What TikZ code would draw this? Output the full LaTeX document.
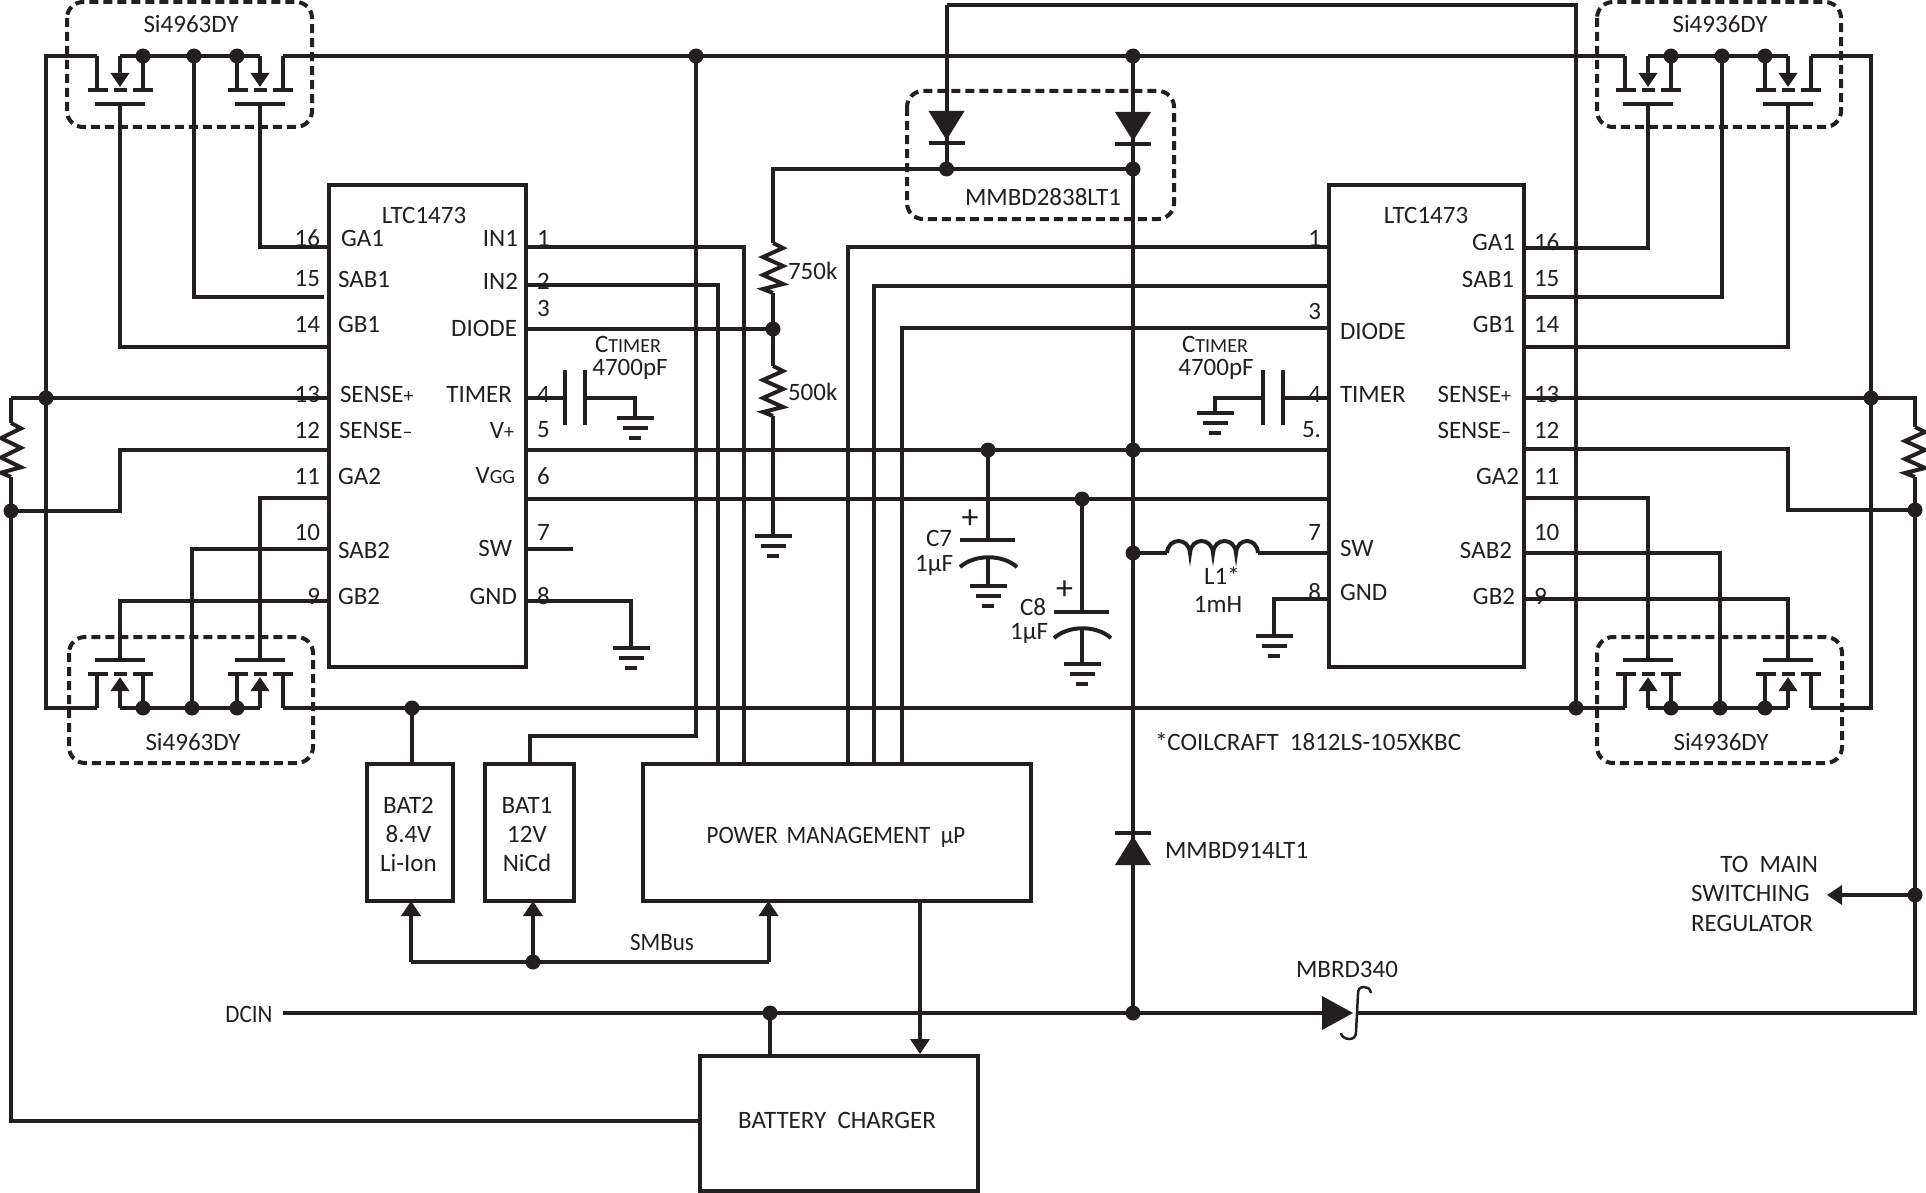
\documentclass[tikz,border=0pt]{standalone}
\usepackage{fontspec}
\setmainfont{Carlito}
\newfontfamily\narrowfont[FakeStretch=0.92]{Carlito}
\usetikzlibrary{arrows.meta}
\definecolor{ink}{HTML}{231F20}
\newcommand{\smalltxt}[1]{{\fontsize{10}{12}\selectfont #1}}
\tikzset{
    wire/.style={line width=2pt},
    arr/.style={-{Triangle[length=7.5pt,width=9.5pt]}},
    dot/.style={circle,fill=ink,inner sep=0pt,outer sep=0pt,minimum size=7.5pt},
    txt/.style={inner sep=0pt,outer sep=0pt,align=center},
    block/.style={draw,line width=2pt,inner sep=0pt,outer sep=0pt},
    dashbox/.style={line width=2pt,rounded corners=8pt,dash pattern=on 4.5pt off 2.5pt},
    fet/.pic={
        \draw[wire] (-25,14) -- (25,14) (-32,0) -- (-12,0) (-6.5,0) -- (6.5,0) (13,0) -- (33,0);
        \coordinate (-l) at (-23,-34);
        \coordinate (-m) at (0,-34);
        \coordinate (-r) at (23,-34);
        \coordinate (-g) at (0,14);
        \draw[wire] (-23,0) -- (-l) (23,0) -- (-r);
        \draw[wire,-{Triangle[length=7pt,width=9pt]}] (-m) -- (0,-3);
    },
    gnd/.pic={
        \draw[wire] (-18.5,0) -- (18.5,0) (-12.5,10) -- (12.5,10) (-6,20) -- (6,20);
    },
    res/.pic={
        \coordinate (-a) at (0,0);
        \coordinate (-b) at (0,50);
        \draw[wire] (-a) -- (10,5) -- (-10,14) -- (10,23) -- (-10,32) -- (10,41) -- (-10,46) -- (-b);
    },
    capa/.pic={
        \coordinate (-l) at (-10,0);
        \coordinate (-r) at (10,0);
        \draw[wire] (-10,-28) -- (-10,27) (10,-28) -- (10,27);
    },
    diode/.pic={
        \fill[ink] (-18,-32) -- (18,-32) -- (0,-3) -- cycle;
        \draw[wire] (-18,0) -- (18,0);
    },
}
\begin{document}
\begin{tikzpicture}[x=0.5pt,y=-0.5pt,color=ink,font=\fontsize{12.5}{14.3}\selectfont]
    \useasboundingbox (0,0) rectangle (1926,1193);
    \node[block,minimum width=98.5pt,minimum height=241pt] (icA) at (427.5,426) {};
    \node[block,minimum width=97.5pt,minimum height=241pt] (icB) at (1426.5,426) {};
    \node[block,minimum width=43pt,minimum height=68.5pt] (bat2) at (410,832.5) {};
    \node[block,minimum width=44.5pt,minimum height=68.5pt] (bat1) at (529.5,832.5) {};
    \node[block,minimum width=194pt,minimum height=68.5pt] (pm) at (837,832.5) {};
    \node[block,minimum width=139pt,minimum height=67.5pt] (chg) at (839,1123.5) {};

    \foreach \n/\x/\y in {a16/329/247,a15/324/297,a14/329/347,a13/329/398,a12/329/450,a11/329/498,a10/329/549,a9/329/601,
        a1/526/247,a2/526/285,a3/526/329,a4/526/398,a5/526/450,a6/526/499,a7/526/549,a8/526/601,
        b1/1329/247,b2/1329/286,b3/1329/328,b4/1329/398,b5/1329/450,b6/1329/499,b7/1329/553,b8/1329/599,
        b16/1524/248,b15/1524/297,b14/1524/347,b13/1524/398,b12/1524/449,b11/1524/498,b10/1524/553,b9/1524/599,
        ja/46/398,jb/194/56,jc/192/708,jd/412/708,je/696/56,jf/773/329,jg/946.5/169,jh/1133/169,ji/1133/56,
        jj/988/450,jk/1133/450,jl/1082/499,jm/1133/553,jn/1576/708,jo/1722/56,jp/1720/708,jq/1871/398,jr/1915/510,
        js/11/511,jt/533/962,ju/770/1013,jv/1133/1013,jw/1915/895,
        sl/11/398,sr/1915/398,k1/120/450,k2/529.5/736,k3/1788/449,t1/946.5/5,t2/1576/5,
        pa/744/764,pb/718/764,pc/848/764,pd/874/764,pe/902/764,cw/700/1121,
        sm1/411/962,sm3/768.5/962,pq/920/901,cq/920/1054,dc/283/1013,sk1/1322/1013,sk2/1356/1013,tm/1827/895,
        sw/573/549,l0/1167/553,l1/1258/553,
        c7t/988/540,c7m/988/557,c8t/1082/612,c8m/1082/627,
        ga/635/418,gb/631/648,gc/1215/413,gd/1274/636,ge/988/586,gf/773/536,gg/1082/664}
        \coordinate (\n) at (\x,\y);

    \pic (fa) at (120,90) {fet};
    \pic (fb) at (260,90) {fet};
    \pic[yscale=-1] (fc) at (120,674) {fet};
    \pic[yscale=-1] (fd) at (260,674) {fet};
    \pic (fe) at (1648,90) {fet};
    \pic (ff) at (1788,90) {fet};
    \pic[yscale=-1] (fg) at (1648,674) {fet};
    \pic[yscale=-1] (fh) at (1788,674) {fet};
    \pic[yscale=1.08] (rl) at (11,423) {res};
    \pic (rr) at (1915,427) {res};
    \pic (ru) at (773,243) {res};
    \pic (rd) at (773,366) {res};
    \pic (ctA) at (575,398) {capa};
    \pic (ctB) at (1272.5,398) {capa};
    \pic (da) at (946.5,143) {diode};
    \pic (db) at (1133,144) {diode};
    \pic[yscale=-1] (dc1) at (1133,833) {diode};
    \foreach \g in {ga,gb,gc,gd,ge,gf,gg}
        \pic at (\g) {gnd};

    \draw[dashbox] (67,2) rectangle (312,127);
    \draw[dashbox] (69,637) rectangle (313,763);
    \draw[dashbox] (1597,2) rectangle (1841,127);
    \draw[dashbox] (1597,637) rectangle (1842,763);
    \draw[dashbox] (907,91) rectangle (1174,219);

    \draw[wire] (ja) |- (fa-l) (ja) |- (fc-l);
    \draw[wire] (fa-m) -- (fb-m) (fc-m) -- (fd-m) (fe-m) -- (ff-m) (fg-m) -- (fh-m);
    \draw[wire] (fb-r) -- (fe-l) (fd-r) -- (fg-l);
    \draw[wire] (ff-r) -| (jq) (fh-r) -| (jq);
    \draw[wire] (sl) -- (a13) (sl) -- (rl-a) (rl-b) -- (js) |- (cw);
    \draw[wire] (js) -| (k1) -- (a12);
    \draw[wire] (a16) -| (fb-g) (a15) -| (jb) (a14) -| (fa-g);
    \draw[wire] (a11) -| (fd-g) (a10) -| (jc) (a9) -| (fc-g);
    \draw[wire] (a1) -| (pa) (a2) -| (pb) (a3) -- (jf);
    \draw[wire] (a4) -- (ctA-l) (ctA-r) -| (ga);
    \draw[wire] (a5) -- (b5) (a6) -- (b6) (a7) -- (sw) (a8) -| (gb);
    \draw[wire] (je) |- (k2) -- (bat1.north);
    \draw[wire] (jd) -- (jd |- bat2.north);
    \draw[wire] (pc) |- (b1) (pd) |- (b2) (pe) |- (b3);
    \draw[wire] (b4) -- (ctB-r) (ctB-l) -| (gc);
    \draw[wire] (b7) -- (l1) (l0) -- (jm) (b8) -| (gd);
    \draw[wire] (l0) .. controls +(1,-16) and +(-1,-16) .. ++(23,0)
        .. controls +(1,-16) and +(-1,-16) .. ++(23,0)
        .. controls +(1,-16) and +(-1,-16) .. ++(23,0)
        .. controls +(1,-16) and +(-1,-16) .. (l1);
    \draw[wire] (b16) -| (fe-g) (b15) -| (jo) (b14) -| (ff-g);
    \draw[wire] (b13) -- (sr) -- (rr-a) (rr-b) -- (jr) (jr) -| (k3) -- (b12);
    \draw[wire] (b11) -| (fg-g) (b10) -| (jp) (b9) -| (fh-g);
    \draw[wire] (t1) -- (t2) -- (jn) (t1) -- (jg) -- (jh) (jg) -| (ru-a);
    \draw[wire] (ru-b) -- (jf) -- (rd-a) (rd-b) -- (gf);
    \draw[wire] (ji) -- (jv);
    \draw[wire] (jj) -- (c7t) (c7m) -- (ge) (jl) -- (c8t) (c8m) -- (gg);
    \draw[wire] (960,540) -- (1015,540) (1054,612) -- (1109,612);
    \draw[wire] (960,567) .. controls +(15,-13) and +(-15,-13) .. (1017,567);
    \draw[wire] (1054,638) .. controls +(15,-13) and +(-15,-13) .. (1111,638);
    \draw[wire] (sm1) -- (sm3);
    \draw[wire,arr] (sm1) -- (sm1 |- bat2.south);
    \draw[wire,arr] (jt) -- (jt |- bat1.south);
    \draw[wire,arr] (sm3) -- (sm3 |- pm.south);
    \draw[wire,arr] (pq) -- (cq);
    \draw[wire] (dc) -- (sk1) (ju) -- (ju |- chg.north) (sk2) -| (jr);
    \draw[wire,arr] (jw) -- (tm);
    \fill[ink] (1322,996) -- (1353,1013) -- (1322,1030) -- cycle;
    \draw[line width=1.25pt] (1371,993) .. controls +(-1,-5) and +(3,0) .. (1364,987)
        .. controls +(-5,0) and +(0,-4) .. (1358,994) -- (1356,1032)
        .. controls +(0,5) and +(4,0) .. (1349,1039) .. controls +(-4,0) and +(0,3) .. (1341,1033);

    \foreach \n in {ja,jb,jc,jd,je,jf,jg,jh,ji,jj,jk,jl,jm,jn,jo,jp,jq,jr,js,jt,ju,jv,jw,fa-r,fb-l,fc-r,fd-l,fe-r,ff-l,fg-r,fh-l}
        \node[dot] (dot-\n) at (\n) {};

    \foreach \n/\y in {16/238,15/279,14/324,13/394,12/430,11/476,10/532,9/596}
        \node[txt,anchor=east] (na\n) at (320,\y) {\n};
    \foreach \n/\y in {1/238,2/281,3/308,4/394,5/430,6/476,7/532,8/596}
        \node[txt,anchor=west] (na\n) at (537,\y) {\n};
    \foreach \n/\y [count=\i] in {1/238,3/311,4/394,5./430,7/532,8/592}
        \node[txt,anchor=east] (nb\i) at (1321,\y) {\n};
    \foreach \n/\y in {16/242,15/279,14/324,13/394,12/430,11/476,10/532,9/596}
        \node[txt,anchor=west] (nb\n) at (1534,\y) {\n};
    \foreach \t/\x/\y [count=\i] in {GA1/341/238,SAB1/338/279,GB1/338/324,SENSE\smalltxt{+}/340/394,SENSE\smalltxt{–}/339/430,GA2/338/476,SAB2/338/550,GB2/338/596}
        \node[txt,anchor=west] (la\i) at (\x,\y) {\t};
    \foreach \t/\x/\y [count=\i] in {IN1/518/238,IN2/518/281,DIODE/517/328,TIMER/512/394,V\smalltxt{+}/514/430,V\smalltxt{GG}/515/476,SW/512/548,GND/517/596}
        \node[txt,anchor=east] (ra\i) at (\x,\y) {\t};
    \foreach \t/\y [count=\i] in {DIODE/331,TIMER/394,SW/548,GND/592}
        \node[txt,anchor=west] (lb\i) at (1340,\y) {\t};
    \foreach \t/\x/\y [count=\i] in {GA1/1515/242,SAB1/1514/279,GB1/1515/324,SENSE\smalltxt{+}/1511/394,SENSE\smalltxt{–}/1511/430,GA2/1519/476,SAB2/1512/550,GB2/1515/596}
        \node[txt,anchor=east] (rb\i) at (\x,\y) {\t};

    \node[txt] (nameA) at (424,215) {LTC1473};
    \node[txt] (nameB) at (1426,215) {LTC1473};
    \node[txt] (si1) at (191,24) {Si4963DY};
    \node[txt] (si2) at (193,742) {Si4963DY};
    \node[txt] (si3) at (1720,24) {Si4936DY};
    \node[txt] (si4) at (1721,742) {Si4936DY};
    \node[txt] (dname) at (1043,197) {MMBD2838LT1};
    \node[txt,anchor=west] (dname2) at (1165,850) {MMBD914LT1};
    \node[txt] (dname3) at (1347,969) {MBRD340};
    \node[txt,anchor=west] (rval1) at (788,271) {750k};
    \node[txt,anchor=west] (rval2) at (788,392) {500k};
    \node[txt] (ct1) at (628,344) {C\smalltxt{TIMER}};
    \node[txt] (cv1) at (630,369) {4700pF};
    \node[txt] (ct2) at (1215,344) {C\smalltxt{TIMER}};
    \node[txt] (cv2) at (1216,369) {4700pF};
    \node[txt,anchor=east] (c7n) at (952,538) {C7};
    \node[txt,anchor=east] (c7v) at (953,565) {1µF};
    \node[txt,anchor=east] (c8n) at (1046,607) {C8};
    \node[txt,anchor=east] (c8v) at (1048,633) {1µF};
    \node[txt,font=\fontsize{17}{17}\selectfont] (c7p) at (970,519) {+};
    \node[txt,font=\fontsize{17}{17}\selectfont] (c8p) at (1064.5,590) {+};
    \node[txt] (lname) at (1222,576) {L1*};
    \node[txt] (lval) at (1218,604) {1mH};
    \node[txt,anchor=west] (note) at (1155,742) {*COILCRAFT\ \ 1812LS-105XKBC};
    \node[txt] (bat2t) at (408.5,834.5) {BAT2\\8.4V\\Li-Ion};
    \node[txt] (bat1t) at (527,834.5) {BAT1\\12V\\NiCd};
    \node[txt] (pmt) at (836,837.5) {\narrowfont POWER\hspace{4.5pt}MANAGEMENT\ \ µP};
    \node[txt] (chgt) at (837,1120) {BATTERY\ \ CHARGER};
    \node[txt] (smb) at (662,942) {\narrowfont SMBus};
    \node[txt] (dcin) at (249,1014) {\narrowfont DCIN};
    \node[txt,anchor=east] (to1) at (1818,864) {TO\ \ MAIN};
    \node[txt,anchor=west] (to2) at (1691,893) {SWITCHING};
    \node[txt,anchor=west] (to3) at (1691,923) {REGULATOR};
\end{tikzpicture}
\end{document}
